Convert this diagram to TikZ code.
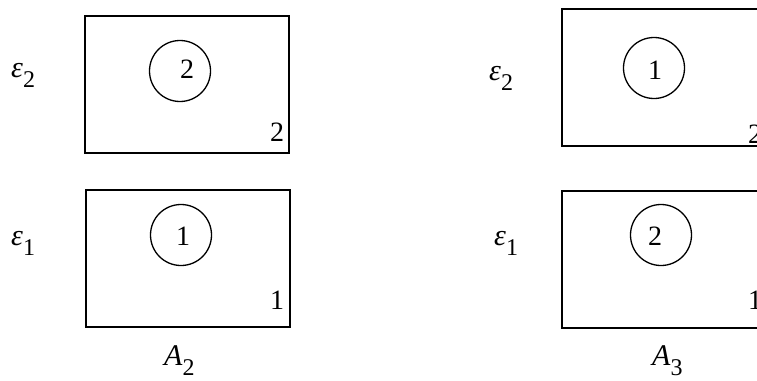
\documentclass[tikz,border=0pt]{standalone}
\usepackage{fontspec}
\setmainfont{Liberation Serif}
\newcommand{\mysub}[1]{\raisebox{-10pt}{\upshape\fontsize{24}{24}\selectfont #1}}
\begin{document}
\begin{tikzpicture}[x=1pt,y=-1pt,
  boxst/.style={draw, line width=1.5pt, inner sep=0pt, anchor=north west, minimum width=204pt, minimum height=137pt},
  circst/.style={draw, circle, line width=1.3pt, inner sep=0pt, minimum size=61pt},
  digit/.style={inner sep=0pt, anchor=base, font=\fontsize{28}{28}\selectfont},
  mathlab/.style={inner sep=0pt, anchor=base west, font=\fontsize{30}{30}\selectfont\itshape}]
\useasboundingbox (0,0) rectangle (757,380);
\clip (0,0) rectangle (757,380);
% left panel
\node[boxst] (bL2) at (84,15) {};
\node[boxst, line width=1.8pt] (bL1) at (85,189) {};
\node[circst] (cL2) at (180,71) {};
\node[circst] (cL1) at (181,235) {};
\node[digit] (tL2) at (187,78) {2};
\node[digit] (tL1) at (183,245) {1};
\node[digit] (kL2) at (277,141) {2};
\node[digit] (kL1) at (277,309) {1};
\node[mathlab] (eL2) at (11,77) {ε\mysub{2}};
\node[mathlab] (eL1) at (11,245) {ε\mysub{1}};
\node[mathlab] (aL) at (164,365) {A\mysub{2}};
% right panel
\node[boxst] (bR2) at (561,8) {};
\node[boxst, line width=1.8pt] (bR1) at (561,190) {};
\node[circst] (cR2) at (654,68) {};
\node[circst] (cR1) at (661,235) {};
\node[digit] (tR2) at (655,79) {1};
\node[digit] (tR1) at (655,245) {2};
\node[digit] (kR2) at (755,143) {2};
\node[digit] (kR1) at (755,309) {1};
\node[mathlab] (eR2) at (489,80) {ε\mysub{2}};
\node[mathlab] (eR1) at (494,245) {ε\mysub{1}};
\node[mathlab] (aR) at (652,365) {A\mysub{3}};
\end{tikzpicture}
\end{document}
